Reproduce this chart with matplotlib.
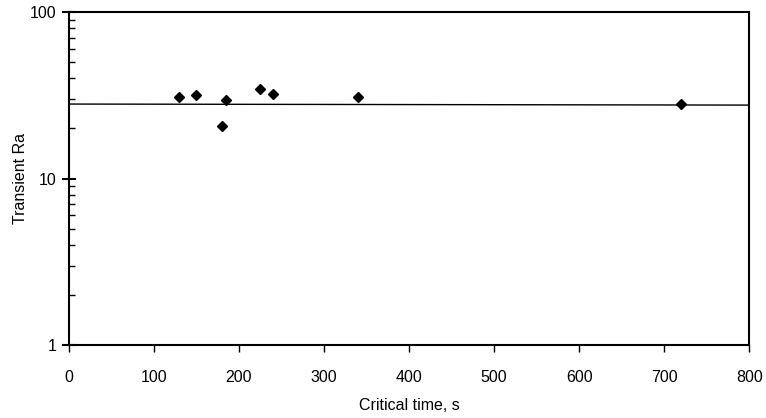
import matplotlib
matplotlib.use("Agg")
from matplotlib import pyplot as plt
from matplotlib.ticker import LogLocator, NullFormatter, FixedLocator

# data
crit_time = [130, 150, 180, 185, 225, 240, 340, 720]
transient_ra = [30.9, 31.6, 20.7, 29.7, 34.6, 32.2, 31.0, 27.9]
# fitted (near-constant) line
line_x = [0, 800]
line_y = [28.0, 27.6]

plt.rcParams['font.family'] = ['Liberation Sans', 'DejaVu Sans']

fig = plt.figure(figsize=(7.66, 4.18), dpi=100)
ax = fig.add_axes([0.090, 0.1746, 0.888, 0.7967])

ax.plot(line_x, line_y, c='black', lw=1.0, zorder=2)
ax.plot(crit_time, transient_ra, 'D', c='black', ms=5.5, zorder=3)

ax.set_xlim(0, 800)
ax.set_yscale('log')
ax.set_ylim(1, 100)

ax.xaxis.set_major_locator(FixedLocator(range(0, 801, 100)))
ax.yaxis.set_major_locator(FixedLocator([1, 10, 100]))
ax.yaxis.set_major_formatter(plt.FixedFormatter(['1', '10', '100']))
ax.yaxis.set_minor_locator(LogLocator(base=10, subs=range(2, 10)))
ax.yaxis.set_minor_formatter(NullFormatter())

for s in ax.spines.values():
    s.set_linewidth(1.5)

ax.tick_params(axis='x', which='major', direction='out', length=5, width=1, labelsize=11.5, pad=13)
ax.tick_params(axis='y', which='major', direction='inout', length=10, width=1.5, labelsize=11.5, pad=4)
ax.tick_params(axis='y', which='minor', direction='in', length=4, width=1)

ax.set_xlabel('Critical time, s', fontsize=11.5, labelpad=9)
ax.set_ylabel('Transient Ra', fontsize=11.5, labelpad=1)

fig.savefig('out.png', dpi=100)
